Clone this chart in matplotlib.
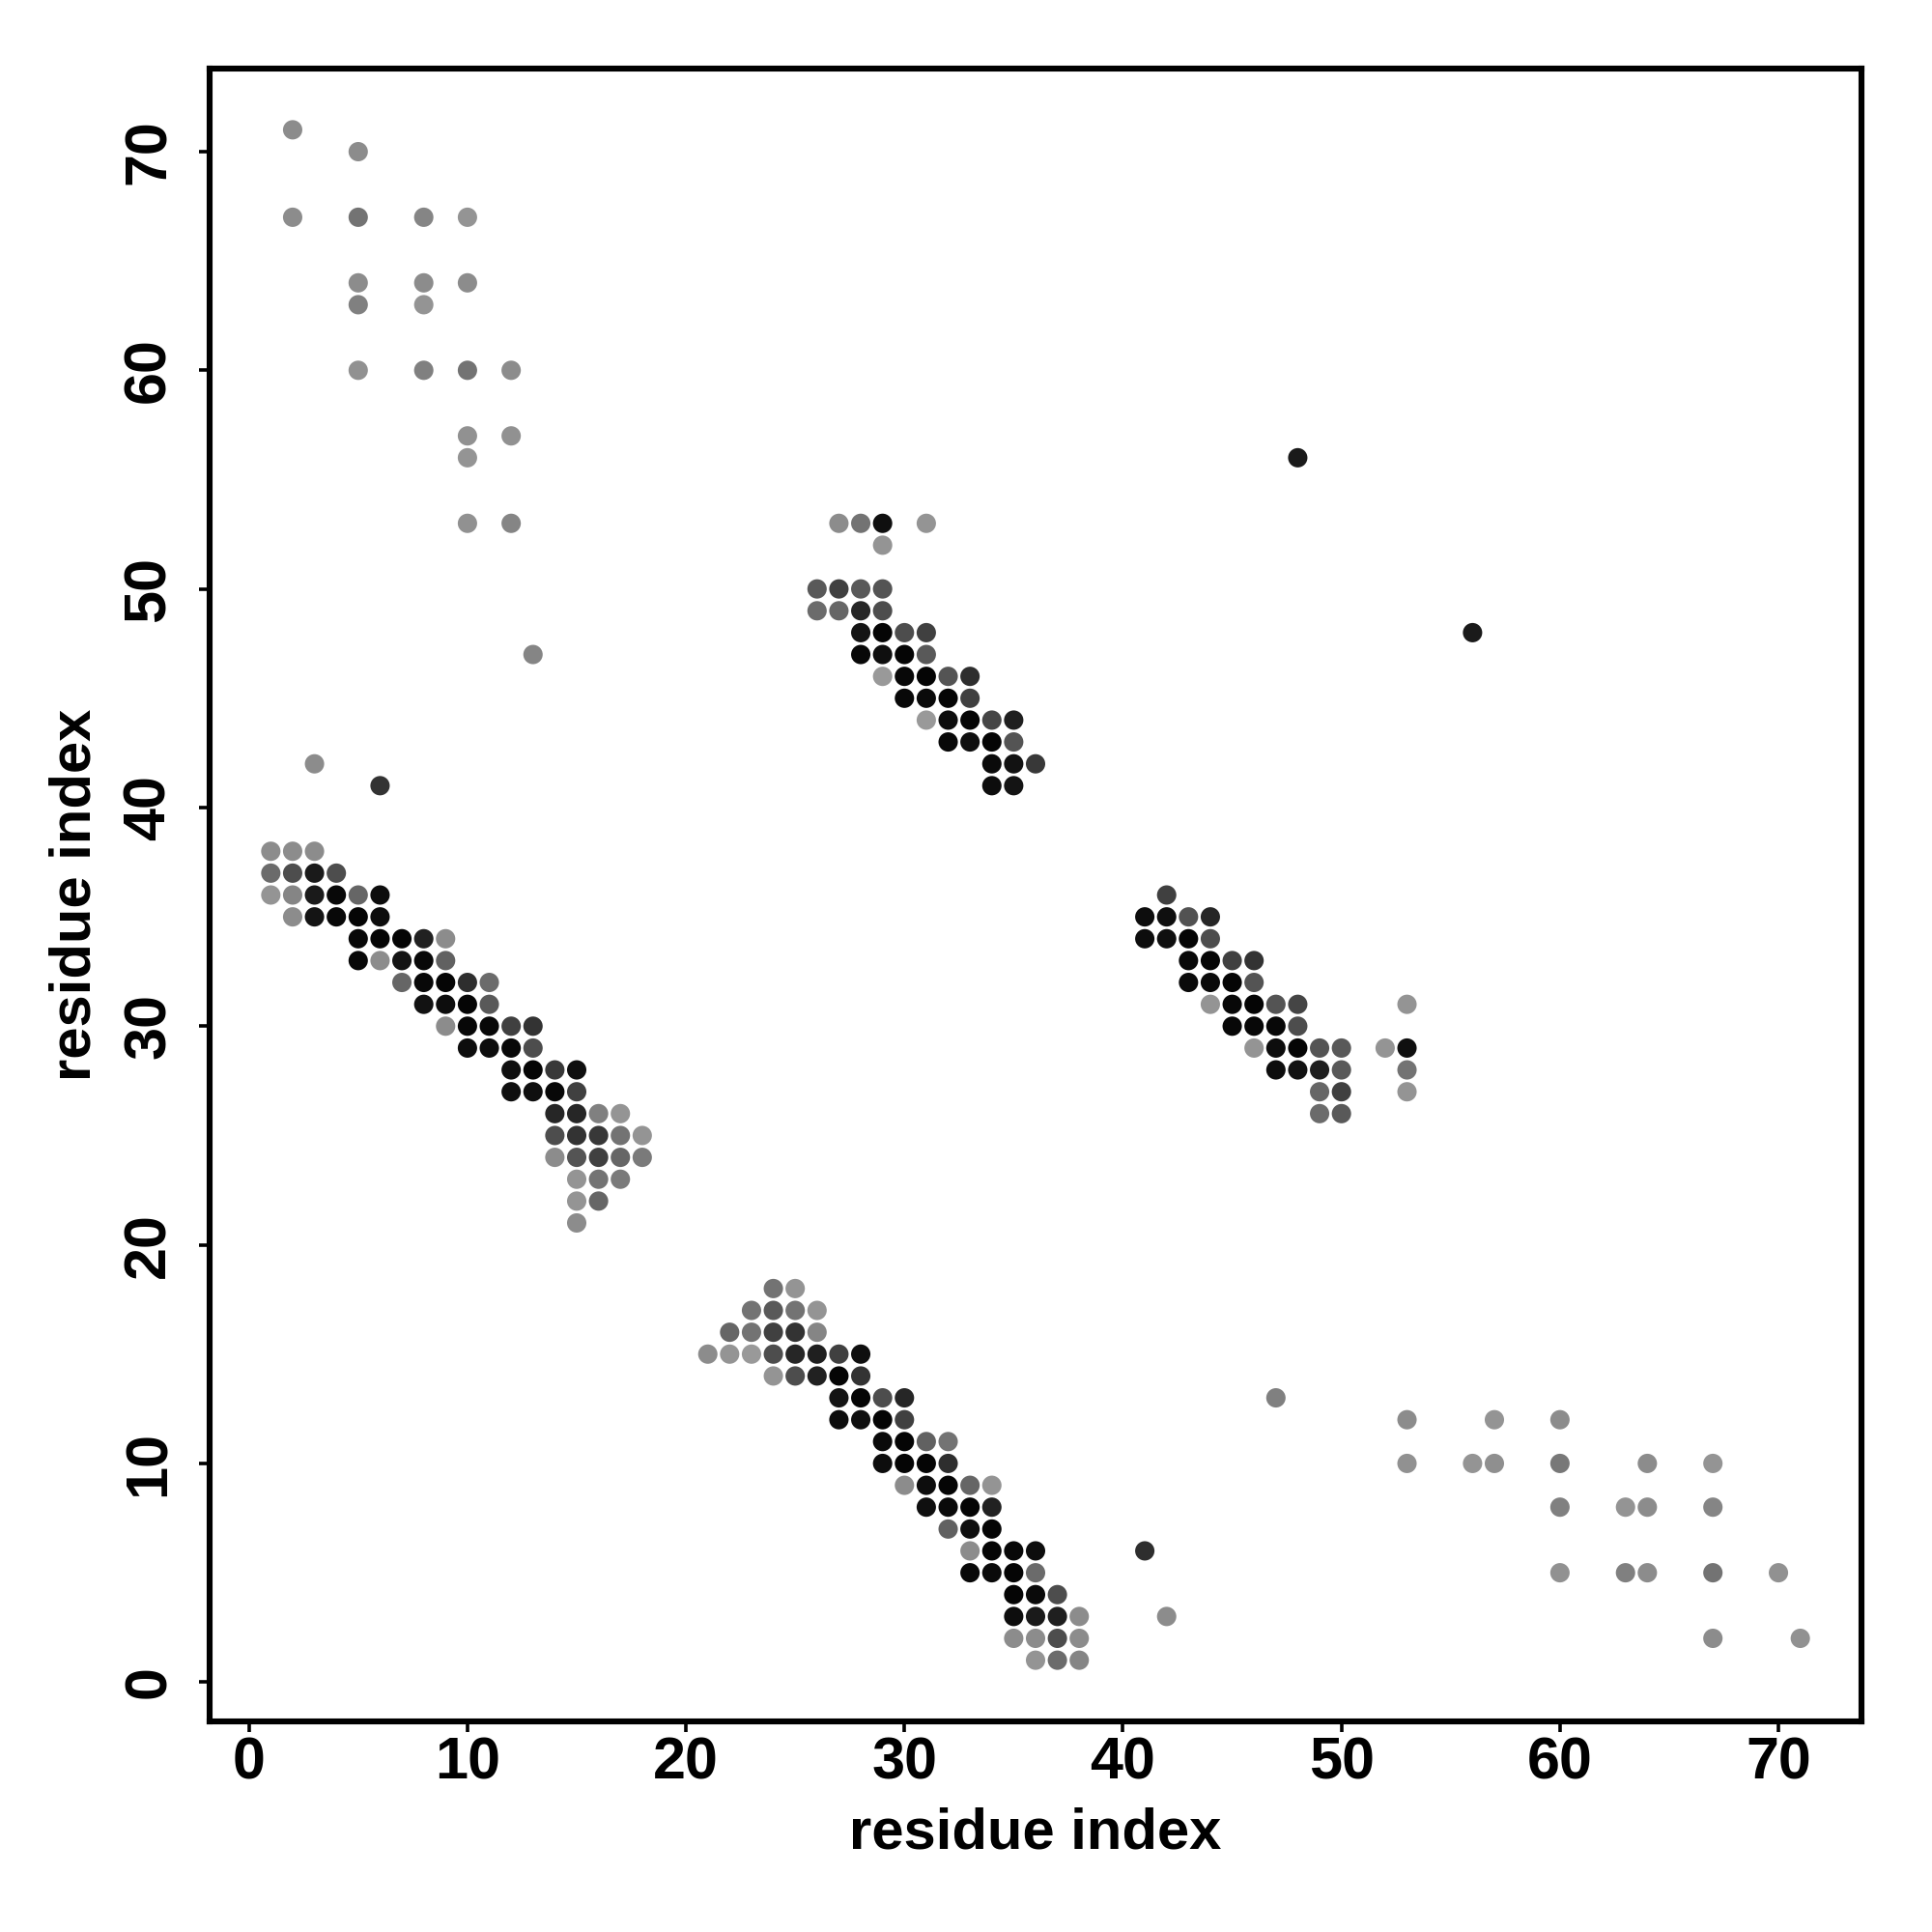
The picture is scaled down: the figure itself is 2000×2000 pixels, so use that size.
import matplotlib
matplotlib.use("Agg")
import matplotlib.pyplot as plt

# contact map: residue i, residue j, grey level of the dot (0 = black, 1 = white)

# helix-helix band, lower left
band_a_x = [3, 6,
            1, 2, 3,
            1, 2, 3, 4,
            1, 2, 3, 4, 5, 6,
            2, 3, 4, 5, 6,
            5, 6, 7, 8, 9,
            5, 6, 7, 8, 9,
            7, 8, 9, 10, 11,
            8, 9, 10, 11,
            9, 10, 11, 12, 13,
            10, 11, 12, 13,
            12, 13, 14, 15,
            12, 13, 14, 15,
            14, 15, 16, 17,
            14, 15, 16, 17, 18,
            14, 15, 16, 17, 18,
            15, 16, 17,
            15, 16,
            15]
band_a_y = [42, 41,
            38, 38, 38,
            37, 37, 37, 37,
            36, 36, 36, 36, 36, 36,
            35, 35, 35, 35, 35,
            34, 34, 34, 34, 34,
            33, 33, 33, 33, 33,
            32, 32, 32, 32, 32,
            31, 31, 31, 31,
            30, 30, 30, 30, 30,
            29, 29, 29, 29,
            28, 28, 28, 28,
            27, 27, 27, 27,
            26, 26, 26, 26,
            25, 25, 25, 25, 25,
            24, 24, 24, 24, 24,
            23, 23, 23,
            22, 22,
            21]
band_a_g = [0.55, 0.2,
            0.55, 0.55, 0.55,
            0.42, 0.3, 0.1, 0.3,
            0.58, 0.52, 0.1, 0.03, 0.4, 0.05,
            0.55, 0.08, 0.03, 0.02, 0.05,
            0.03, 0.02, 0.02, 0.13, 0.55,
            0.03, 0.55, 0.08, 0.03, 0.38,
            0.4, 0.03, 0.02, 0.18, 0.42,
            0.07, 0.05, 0.02, 0.35,
            0.55, 0.03, 0.03, 0.25, 0.2,
            0.05, 0.05, 0.03, 0.3,
            0.06, 0.02, 0.22, 0.06,
            0.06, 0.06, 0.03, 0.25,
            0.15, 0.15, 0.5, 0.58,
            0.3, 0.2, 0.22, 0.45, 0.58,
            0.55, 0.33, 0.25, 0.4, 0.48,
            0.58, 0.45, 0.48,
            0.58, 0.4,
            0.55]

# band in the upper middle
band_b_x = [27, 28, 29, 31,
            29,
            26, 27, 28, 29,
            26, 27, 28, 29,
            28, 29, 30, 31,
            28, 29, 30, 31,
            29, 30, 31, 32, 33,
            30, 31, 32, 33,
            31, 32, 33, 34, 35,
            32, 33, 34, 35,
            34, 35, 36,
            34, 35]
band_b_y = [53, 53, 53, 53,
            52,
            50, 50, 50, 50,
            49, 49, 49, 49,
            48, 48, 48, 48,
            47, 47, 47, 47,
            46, 46, 46, 46, 46,
            45, 45, 45, 45,
            44, 44, 44, 44, 44,
            43, 43, 43, 43,
            42, 42, 42,
            41, 41]
band_b_g = [0.55, 0.45, 0.06, 0.58,
            0.58,
            0.35, 0.25, 0.35, 0.33,
            0.42, 0.4, 0.15, 0.3,
            0.08, 0.02, 0.3, 0.25,
            0.03, 0.06, 0.02, 0.35,
            0.6, 0.03, 0.02, 0.33, 0.18,
            0.03, 0.04, 0.02, 0.25,
            0.6, 0.05, 0.02, 0.27, 0.12,
            0.03, 0.06, 0.02, 0.33,
            0.04, 0.07, 0.22,
            0.05, 0.08]

# band on the right
band_c_x = [42,
            41, 42, 43, 44,
            41, 42, 43, 44,
            43, 44, 45, 46,
            43, 44, 45, 46,
            44, 45, 46, 47, 48, 53,
            45, 46, 47, 48,
            46, 47, 48, 49, 50, 52, 53,
            47, 48, 49, 50, 53,
            49, 50, 53,
            49, 50]
band_c_y = [36,
            35, 35, 35, 35,
            34, 34, 34, 34,
            33, 33, 33, 33,
            32, 32, 32, 32,
            31, 31, 31, 31, 31, 31,
            30, 30, 30, 30,
            29, 29, 29, 29, 29, 29, 29,
            28, 28, 28, 28, 28,
            27, 27, 27,
            26, 26]
band_c_g = [0.25,
            0.05, 0.06, 0.32, 0.15,
            0.05, 0.06, 0.02, 0.3,
            0.03, 0.02, 0.25, 0.2,
            0.04, 0.04, 0.02, 0.33,
            0.58, 0.03, 0.02, 0.33, 0.27, 0.58,
            0.03, 0.03, 0.03, 0.3,
            0.58, 0.05, 0.02, 0.33, 0.35, 0.58, 0.06,
            0.05, 0.07, 0.12, 0.35, 0.45,
            0.4, 0.25, 0.58,
            0.42, 0.35]

# band at the bottom
band_d_x = [24, 25,
            23, 24, 25, 26,
            22, 23, 24, 25, 26,
            21, 22, 23, 24, 25, 26, 27, 28,
            24, 25, 26, 27, 28,
            27, 28, 29, 30,
            27, 28, 29, 30,
            29, 30, 31, 32,
            29, 30, 31, 32,
            30, 31, 32, 33, 34,
            31, 32, 33, 34,
            32, 33, 34,
            33, 34, 35, 36,
            33, 34, 35, 36,
            35, 36, 37,
            35, 36, 37, 38,
            35, 36, 37, 38,
            36, 37, 38]
band_d_y = [18, 18,
            17, 17, 17, 17,
            16, 16, 16, 16, 16,
            15, 15, 15, 15, 15, 15, 15, 15,
            14, 14, 14, 14, 14,
            13, 13, 13, 13,
            12, 12, 12, 12,
            11, 11, 11, 11,
            10, 10, 10, 10,
            9, 9, 9, 9, 9,
            8, 8, 8, 8,
            7, 7, 7,
            6, 6, 6, 6,
            5, 5, 5, 5,
            4, 4, 4,
            3, 3, 3, 3,
            2, 2, 2, 2,
            1, 1, 1]
band_d_g = [0.45, 0.58,
            0.45, 0.35, 0.45, 0.58,
            0.4, 0.45, 0.25, 0.2, 0.52,
            0.55, 0.58, 0.6, 0.3, 0.15, 0.12, 0.25, 0.06,
            0.58, 0.3, 0.13, 0.02, 0.2,
            0.08, 0.02, 0.3, 0.15,
            0.05, 0.06, 0.02, 0.25,
            0.04, 0.02, 0.38, 0.45,
            0.05, 0.02, 0.02, 0.18,
            0.55, 0.05, 0.02, 0.4, 0.58,
            0.06, 0.04, 0.02, 0.13,
            0.38, 0.06, 0.02,
            0.55, 0.02, 0.03, 0.05,
            0.03, 0.04, 0.02, 0.42,
            0.02, 0.04, 0.3,
            0.05, 0.1, 0.12, 0.55,
            0.55, 0.55, 0.3, 0.55,
            0.58, 0.42, 0.52]

# scattered long range contacts
scatter_x = [2, 5, 2, 5, 8, 10, 5, 8, 10, 5, 8, 5, 8, 10, 12, 10, 12, 10, 10, 12, 13,
             48, 56,
             47, 53, 57, 60, 53, 56, 57, 60, 64, 67, 60, 63, 64, 67, 41,
             60, 63, 64, 67, 70, 42, 67, 71]
scatter_y = [71, 70, 67, 67, 67, 67, 64, 64, 64, 63, 63, 60, 60, 60, 60, 57, 57, 56, 53, 53, 47,
             56, 48,
             13, 12, 12, 12, 10, 10, 10, 10, 10, 10, 8, 8, 8, 8, 6,
             5, 5, 5, 5, 5, 3, 2, 2]
scatter_g = [0.55, 0.55, 0.55, 0.45, 0.52, 0.58, 0.55, 0.55, 0.55, 0.5, 0.58, 0.57, 0.5,
             0.45, 0.55, 0.57, 0.57, 0.58, 0.57, 0.52, 0.52,
             0.1, 0.1,
             0.5, 0.55, 0.58, 0.55, 0.57, 0.58, 0.56, 0.47, 0.55, 0.58, 0.5, 0.58, 0.55, 0.52, 0.18,
             0.57, 0.5, 0.55, 0.45, 0.57, 0.55, 0.55, 0.57]

xs = band_a_x + band_b_x + band_c_x + band_d_x + scatter_x
ys = band_a_y + band_b_y + band_c_y + band_d_y + scatter_y
greys = band_a_g + band_b_g + band_c_g + band_d_g + scatter_g
colors = [(g, g, g) for g in greys]

plt.rcParams['font.family'] = ['Liberation Sans', 'DejaVu Sans']
plt.rcParams['font.weight'] = 'bold'

fig = plt.figure(figsize=(10, 10), dpi=200)
ax = fig.add_axes([0.1085, 0.109, 0.855, 0.8555])

ax.scatter(xs, ys, s=52, c=colors, edgecolors='none')

ax.set_xlim(-1.8, 73.8)
ax.set_ylim(-1.8, 73.8)
ax.set_xticks(range(0, 71, 10))
ax.set_yticks(range(0, 71, 10))
ax.tick_params(direction='out', length=4, width=1.3, labelsize=22)
ax.tick_params(axis='x', pad=1.5)
ax.tick_params(axis='y', pad=8)
for lab in ax.get_yticklabels():
    lab.set_rotation(90)
    lab.set_va('center')
for sp in ax.spines.values():
    sp.set_linewidth(2.2)

ax.set_xlabel('residue index', fontsize=21.5, fontweight='bold', labelpad=6)
ax.set_ylabel('residue index', fontsize=21.5, fontweight='bold', labelpad=7.5)

fig.savefig('out.png', dpi=200, facecolor='white')
